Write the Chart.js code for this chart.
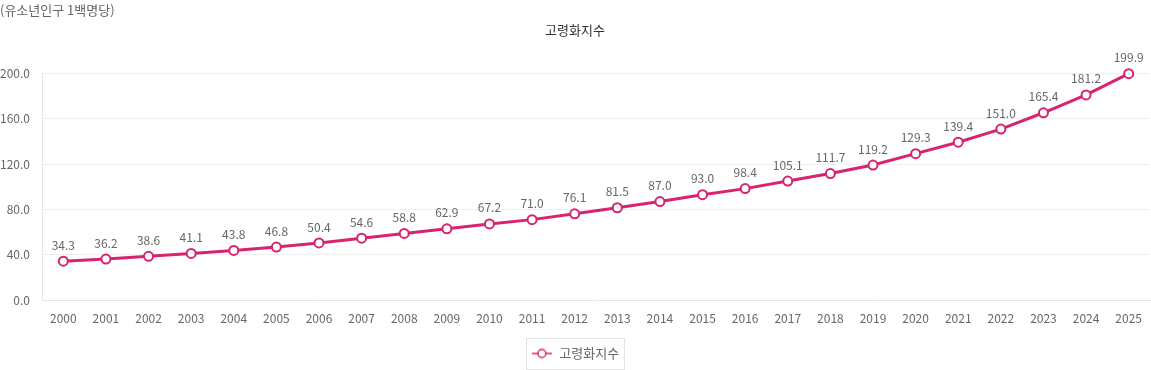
<!DOCTYPE html>
<html>
<head>
<meta charset="utf-8">
<script src="https://cdn.jsdelivr.net/npm/chart.js@4"></script>
<style>
  body { margin: 0; background: #fff; font-family: "Noto Sans CJK KR", sans-serif; }
  #wrap { position: relative; width: 1151px; height: 370px; }
  #unit { position: absolute; left: 0; top: 0; font-size: 13px; color: #666; }
</style>
</head>
<body>
<div id="wrap">
  <div id="unit">(유소년인구 1백명당)</div>
  <canvas id="chart_aging" width="1151" height="370"></canvas>
</div>
<script>
// DATA
const years = ['2000', '2001', '2002', '2003', '2004', '2005', '2006', '2007', '2008', '2009', '2010', '2011', '2012',
  '2013', '2014', '2015', '2016', '2017', '2018', '2019', '2020', '2021', '2022', '2023', '2024', '2025'];
const agingIndex = [34.3, 36.2, 38.6, 41.1, 43.8, 46.8, 50.4, 54.6, 58.8, 62.9, 67.2, 71.0, 76.1,
  81.5, 87.0, 93.0, 98.4, 105.1, 111.7, 119.2, 129.3, 139.4, 151.0, 165.4, 181.2, 199.9];
const seriesName = '고령화지수';

const pink = '#d6246e';
const fontFamily = '"Noto Sans CJK KR", sans-serif';

// legend marker: short line with an open circle
const marker = document.createElement('canvas');
marker.width = 22;
marker.height = 12;
(function() {
  const c = marker.getContext('2d');
  c.strokeStyle = pink;
  c.lineWidth = 1.5;
  c.beginPath(); c.moveTo(1, 6); c.lineTo(21, 6); c.stroke();
  c.fillStyle = '#fff';
  c.beginPath(); c.arc(11, 6, 4, 0, Math.PI * 2); c.fill(); c.stroke();
})();

// value labels above each point
const valueLabels = {
  id: 'valueLabels',
  afterDatasetsDraw(chart) {
    const ctx = chart.ctx;
    const meta = chart.getDatasetMeta(0);
    ctx.save();
    ctx.font = '12px ' + fontFamily;
    ctx.fillStyle = '#666';
    ctx.textAlign = 'center';
    ctx.textBaseline = 'middle';
    meta.data.forEach(function(pt, i) {
      ctx.fillText(agingIndex[i].toFixed(1), pt.x, pt.y - 16);
    });
    ctx.restore();
  }
};

// thin border round the legend
const legendBox = {
  id: 'legendBox',
  afterDraw(chart) {
    const item = chart.legend.legendHitBoxes[0];
    if (!item) return;
    const ctx = chart.ctx;
    const cy = item.top + item.height / 2;
    ctx.save();
    ctx.strokeStyle = '#e2e2e2';
    ctx.lineWidth = 1;
    ctx.strokeRect(Math.round(item.left - 5) + 0.5, Math.round(cy - 16) + 0.5, Math.round(item.width + 10), 31);
    ctx.restore();
  }
};

const chart_aging = new Chart(document.getElementById('chart_aging'), {
  type: 'line',
  data: {
    labels: years,
    datasets: [{
      label: seriesName,
      data: agingIndex,
      borderColor: pink,
      borderWidth: 3,
      pointRadius: 4.5,
      pointBorderWidth: 2,
      pointBackgroundColor: '#fff',
      pointBorderColor: pink,
      tension: 0,
      clip: false
    }]
  },
  options: {
    responsive: false,
    animation: false,
    layout: { autoPadding: false, padding: { top: 0, right: 1, bottom: 0, left: 0 } },
    scales: {
      x: {
        offset: true,
        afterFit: function(scale) {
          scale.height = 39;
          scale.paddingLeft = 0;
          scale.paddingRight = 0;
        },
        grid: { display: false },
        border: { color: '#e6e6e6' },
        ticks: { color: '#666', font: { family: fontFamily, size: 12 }, padding: 3, maxRotation: 0 }
      },
      y: {
        min: 0,
        max: 200,
        afterFit: function(scale) { scale.width = 42; },
        grid: { color: '#efefef', drawTicks: false },
        border: { color: '#e6e6e6' },
        ticks: {
          stepSize: 40,
          padding: 12,
          color: '#666',
          font: { family: fontFamily, size: 12 },
          callback: function(v) { return v.toFixed(1); }
        }
      }
    },
    plugins: {
      title: {
        display: true,
        text: seriesName,
        color: '#333',
        font: { family: fontFamily, size: 13, weight: 'normal' },
        padding: { top: 22, bottom: 36 }
      },
      legend: {
        position: 'bottom',
        labels: {
          usePointStyle: true,
          pointStyle: marker,
          pointStyleWidth: 22,
          color: '#666',
          font: { family: fontFamily, size: 13 },
          padding: 8
        }
      },
      tooltip: { enabled: false }
    }
  },
  plugins: [valueLabels, legendBox]
});
</script>
</body>
</html>
